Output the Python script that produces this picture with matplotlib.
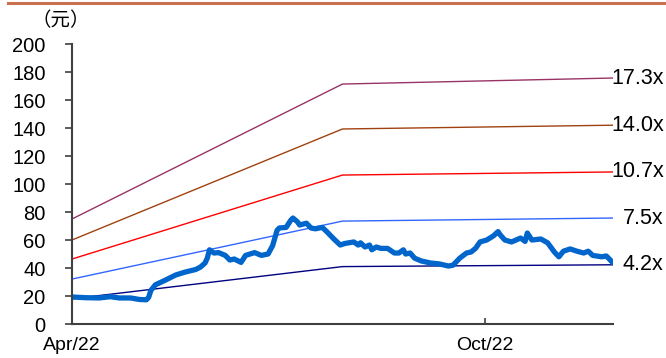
import matplotlib
matplotlib.use("Agg")
import matplotlib.pyplot as plt
import matplotlib.dates as mdates
from matplotlib.lines import Line2D
import pandas as pd

# share price (yuan)
price_dates = [
    "2022-04-01", "2022-04-07", "2022-04-13", "2022-04-18", "2022-04-22", "2022-04-27",
    "2022-05-01", "2022-05-04", "2022-05-05", "2022-05-06", "2022-05-08", "2022-05-12",
    "2022-05-17", "2022-05-19", "2022-05-21", "2022-05-26", "2022-05-28", "2022-05-30",
    "2022-05-31", "2022-06-01", "2022-06-03", "2022-06-05", "2022-06-08", "2022-06-10",
    "2022-06-12", "2022-06-15", "2022-06-17", "2022-06-19", "2022-06-21", "2022-06-24",
    "2022-06-27", "2022-06-29", "2022-07-01", "2022-07-02", "2022-07-05", "2022-07-07",
    "2022-07-08", "2022-07-10", "2022-07-11", "2022-07-14", "2022-07-16", "2022-07-18",
    "2022-07-21", "2022-07-23", "2022-07-26", "2022-07-29", "2022-07-31", "2022-08-04",
    "2022-08-06", "2022-08-07", "2022-08-09", "2022-08-11", "2022-08-12", "2022-08-14",
    "2022-08-16", "2022-08-19", "2022-08-22", "2022-08-24", "2022-08-26", "2022-08-27",
    "2022-08-29", "2022-08-31", "2022-09-03", "2022-09-07", "2022-09-11", "2022-09-15",
    "2022-09-17", "2022-09-20", "2022-09-23", "2022-09-25", "2022-09-27", "2022-09-29",
    "2022-10-02", "2022-10-05", "2022-10-07", "2022-10-08", "2022-10-10", "2022-10-13",
    "2022-10-15", "2022-10-17", "2022-10-19", "2022-10-20", "2022-10-22", "2022-10-26",
    "2022-10-29", "2022-11-01", "2022-11-03", "2022-11-05", "2022-11-08", "2022-11-11",
    "2022-11-14", "2022-11-16", "2022-11-18", "2022-11-22", "2022-11-24", "2022-11-25",
    "2022-11-27",
]
price = [
    19.3, 18.8, 18.6, 19.5, 18.6, 18.6,
    17.5, 17.3, 19.0, 24.0, 28.0, 31.0,
    35.0, 36.0, 37.0, 39.0, 40.7, 43.5,
    47.0, 53.0, 50.7, 51.0, 49.0, 45.7,
    46.4, 44.0, 49.0, 50.0, 51.0, 49.0,
    50.0, 56.0, 67.0, 68.6, 69.0, 74.0,
    75.7, 73.0, 70.7, 72.0, 68.6, 68.0,
    69.0, 66.0, 61.0, 56.4, 57.5, 58.6,
    56.4, 58.0, 55.0, 56.4, 53.0, 55.0,
    54.0, 54.0, 50.7, 50.7, 53.0, 50.0,
    50.7, 47.0, 45.0, 43.6, 42.9, 41.4,
    42.0, 47.0, 50.7, 51.4, 54.0, 58.6,
    60.0, 63.0, 66.0, 63.6, 60.0, 58.6,
    60.0, 61.4, 59.0, 65.0, 60.0, 60.7,
    58.0, 51.4, 48.0, 52.0, 53.6, 52.0,
    50.7, 52.0, 49.0, 48.0, 48.6, 47.0,
    43.6,
]

# PE band lines
band_dates = ["2022-04-01", "2022-07-30", "2022-11-27"]
band_labels = ["17.3x", "14.0x", "10.7x", "7.5x", "4.2x"]
band_17_3 = [75.0, 171.4, 175.7]
band_14_0 = [60.0, 139.3, 142.0]
band_10_7 = [46.4, 106.4, 108.6]
band_7_5 = [32.1, 73.5, 75.7]
band_4_2 = [18.0, 41.0, 42.3]
band_colors = ["#993366", "#A0420F", "#FF0000", "#3366FF", "#000080"]

plt.rcParams["font.family"] = ["Liberation Sans", "DejaVu Sans"]

fig = plt.figure(figsize=(6.66, 3.58), dpi=100)
ax = fig.add_axes([72 / 666, 34 / 358, 541 / 666, 280 / 358])

bd = pd.to_datetime(band_dates)
bands = [band_17_3, band_14_0, band_10_7, band_7_5, band_4_2]
for vals, col in zip(bands, band_colors):
    ax.plot(bd, vals, color=col, lw=1.0)

ax.plot(pd.to_datetime(price_dates), price, color="#0066CC", lw=3.8,
        solid_joinstyle="round", solid_capstyle="round")

# band labels, right aligned just past the axes
for vals, lab in zip(bands, band_labels):
    ax.annotate(lab, xy=(1.0, vals[-1]), xycoords=("axes fraction", "data"),
                xytext=(36.5, 0), textcoords="offset points",
                ha="right", va="center", fontsize=15.5, color="black")

ax.set_xlim(bd[0], bd[-1])
ax.set_ylim(0, 200)
ax.set_yticks(range(0, 201, 20))
ax.set_xticks(pd.to_datetime(["2022-04-01", "2022-10-01"]))
ax.xaxis.set_major_formatter(mdates.DateFormatter("%b/%y"))

for s in ["top", "right"]:
    ax.spines[s].set_visible(False)
for s in ["left", "bottom"]:
    ax.spines[s].set_color("#404040")
    ax.spines[s].set_linewidth(1.5)

ax.tick_params(axis="y", direction="out", length=5, width=1.2, color="#404040",
               pad=14, labelsize=14.5)
ax.tick_params(axis="x", direction="in", length=4, width=1.2, color="#404040",
               pad=9.5, labelsize=14)

fig.text(61 / 666, 1 - 21 / 358, "（元）", ha="center", va="center", fontsize=14,
         family=["Noto Sans CJK SC", "DejaVu Sans"])

fig.add_artist(Line2D([8 / 666, 1.0], [1 - 3 / 358, 1 - 3 / 358],
                      color="#C8704F", lw=2.2, transform=fig.transFigure))

fig.savefig("out.png", dpi=100)
